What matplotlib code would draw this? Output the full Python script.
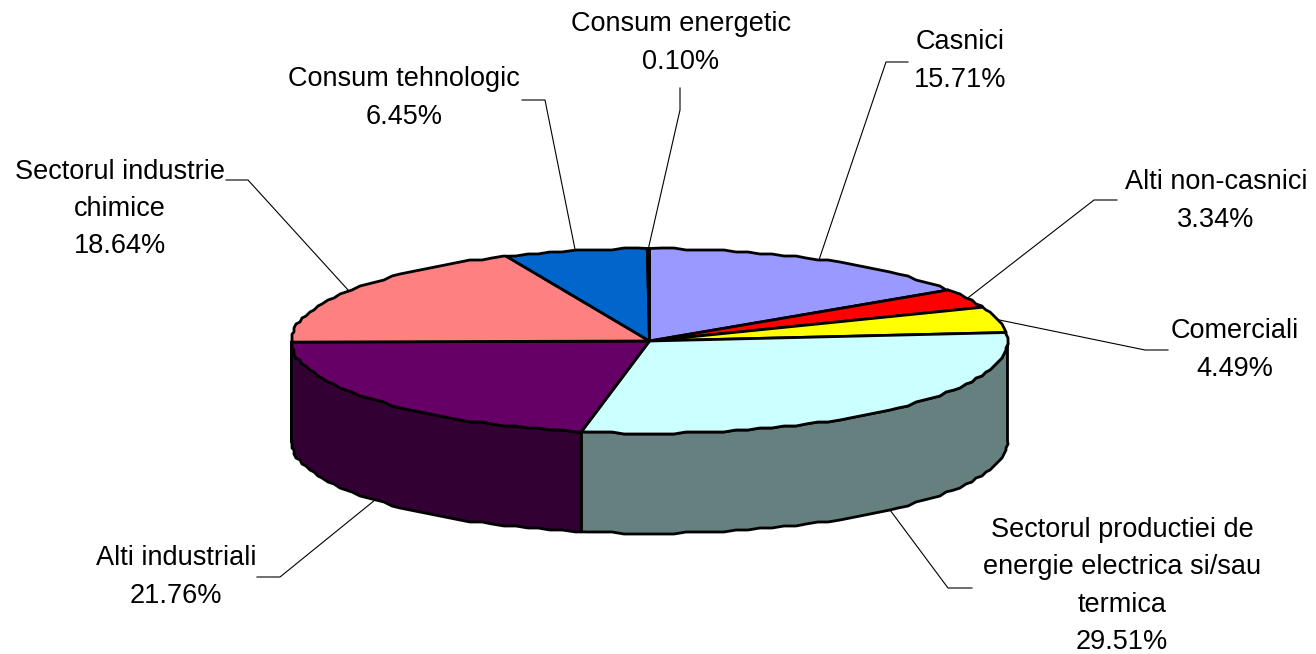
"""
Flat 3D style pie of gas consumption by sector
"""

import numpy as np
import matplotlib
matplotlib.use("Agg")
import matplotlib.pyplot as plt
from matplotlib.patches import Polygon

labels = ["Casnici", "Alti non-casnici", "Comerciali",
          "Sectorul productiei de\nenergie electrica si/sau\ntermica",
          "Alti industriali", "Sectorul industrie\nchimice",
          "Consum tehnologic", "Consum energetic"]
values = [15.71, 3.34, 4.49, 29.51, 21.76, 18.64, 6.45, 0.10]
top_colors = ["#9999FF", "#FF0000", "#FFFF00", "#CCFFFF",
              "#660066", "#FF8080", "#0066CC", "#CCCCFF"]
side_colors = ["#4C4C7F", "#7F0000", "#7F7F00", "#667F7F",
               "#330033", "#7F4040", "#003366", "#66667F"]

# label centre and the two leader bends, in pixels
label_pos = [(960, 61), (1216, 201), (1235, 350), (1122, 586),
             (176, 577), (120, 209), (404, 98), (681, 43)]
bends = [[(886, 62), (908, 62)], [(1094, 200), (1117, 200)],
         [(1145, 350), (1168, 350)], [(948, 588), (972, 588)],
         [(280, 577), (257, 577)], [(248, 180), (226, 180)],
         [(545, 100), (522, 100)], [(680, 110), (680, 88)]]

CX, CY = 649.5, 341
RX, RY = 358, 92.5
DEPTH = 100
SNAP = 2  # the rim of the original is a slightly stepped polyline


def rim(a):
    # a is degrees clockwise from the top of the pie
    rad = np.radians(a)
    return CX + RX * np.sin(rad), CY - RY * np.cos(rad)


def stepped_rim(a0, a1):
    t = np.arange(np.ceil(a0 / 2) * 2, a1, 2.0)
    t = np.r_[a0, t[t > a0], a1]
    x, y = rim(t)
    x[1:-1] = np.round(x[1:-1] / SNAP) * SNAP
    y[1:-1] = np.round(y[1:-1] / SNAP) * SNAP
    return x, y


plt.rcParams["font.family"] = ["Liberation Sans", "DejaVu Sans"]
fig = plt.figure(figsize=(13.16, 6.54), dpi=100)
ax = fig.add_axes([0, 0, 1, 1])
ax.set_xlim(0, 1316)
ax.set_ylim(654, 0)
ax.axis("off")

edges = np.cumsum([0] + values) / sum(values) * 360

# side walls first, only the front half of the rim shows
for i in range(len(values)):
    a0, a1 = max(edges[i], 90), min(edges[i + 1], 270)
    if a1 <= a0:
        continue
    x, y = stepped_rim(a0, a1)
    pts = np.r_[np.c_[x, y], np.c_[x[::-1], y[::-1] + DEPTH]]
    ax.add_patch(Polygon(pts, closed=True, fc=side_colors[i], ec="black", lw=2, zorder=2))

# top face
for i in range(len(values)):
    x, y = stepped_rim(edges[i], edges[i + 1])
    pts = np.r_[[(CX, CY)], np.c_[x, y]]
    ax.add_patch(Polygon(pts, closed=True, fc=top_colors[i], ec="black", lw=2,
                         joinstyle="round", zorder=3))

# leaders and labels
for i in range(len(values)):
    mid = (edges[i] + edges[i + 1]) / 2
    x0, y0 = rim(mid)
    if 90 < mid < 270:
        y0 += DEPTH
    xs = [x0] + [p[0] for p in bends[i]]
    ys = [y0] + [p[1] for p in bends[i]]
    ax.plot(xs, ys, color="black", lw=0.8, zorder=4)
    ax.text(label_pos[i][0], label_pos[i][1], f"{labels[i]}\n{values[i]:.2f}%",
            ha="center", va="center", ma="center", fontsize=19.5, linespacing=1.57,
            color="black", zorder=5)

fig.savefig("out.png", dpi=100)
